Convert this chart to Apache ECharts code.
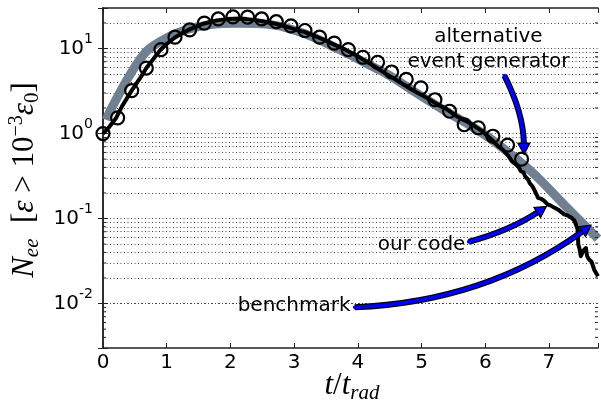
<!DOCTYPE html>
<html>
<head>
<meta charset="utf-8">
<script src="https://cdn.jsdelivr.net/npm/echarts@6/dist/echarts.min.js"></script>
<style>
  html, body { margin: 0; padding: 0; background: #fff; }
  #c { width: 601px; height: 407px; }
</style>
</head>
<body>
<div id="c"></div>
<script>
// Axis ranges: time in units of t_rad, counts on a log scale
const tMin = 0, tMax = 7.77;
const nMin = 0.003, nMax = 30;
const xTickStep = 1;

// benchmark curve
const benchT = [0.05, 0.11, 0.32, 0.52, 0.71, 0.99, 1.3, 1.67, 2.1, 2.66, 3.18, 3.7, 4.22, 4.5, 4.95, 5.37, 5.8, 6.15, 6.72, 7.24, 7.77];
const benchN = [1.45, 1.83, 3.6, 6.4, 9.7, 13.2, 16.6, 19.0, 19.8, 19.0, 14.8, 9.8, 6.2, 4.8, 2.9, 1.85, 1.2, 0.8, 0.36, 0.145, 0.058];

// our code
const codeT = [0.0, 0.1, 0.2, 0.3, 0.45, 0.6, 0.68, 0.8, 0.9, 1.0, 1.13, 1.25, 1.36, 1.5, 1.58, 1.7, 1.81, 1.95, 2.04, 2.15, 2.26, 2.4, 2.49, 2.6, 2.71, 2.85, 2.94, 3.05, 3.17, 3.3, 3.39, 3.5, 3.62, 3.75, 3.85, 4.0, 4.07, 4.2, 4.3, 4.45, 4.6, 4.75, 4.85, 5.0, 5.15, 5.3, 5.4, 5.55, 5.7, 5.85, 5.95, 6.05, 6.12, 6.2, 6.27, 6.36, 6.42, 6.47, 6.52, 6.56, 6.6, 6.63, 6.67, 6.7, 6.74, 6.78, 6.8, 6.83, 6.88, 6.93, 6.96, 6.98, 7.03, 7.08, 7.14, 7.19, 7.24, 7.3, 7.35, 7.4, 7.43, 7.45, 7.46, 7.48, 7.5, 7.54, 7.58, 7.6, 7.63, 7.67, 7.69, 7.71, 7.74, 7.77];
const codeN = [1.0, 1.2, 1.5, 2.1, 3.2, 4.7, 5.9, 7.7, 9.6, 11.3, 13.5, 15.3, 16.8, 18.6, 19.6, 20.8, 21.6, 22.2, 22.4, 22.5, 22.2, 21.6, 21.1, 20.3, 19.6, 18.3, 17.5, 16.5, 15.6, 14.3, 13.4, 12.4, 11.2, 10.2, 9.3, 8.1, 7.5, 6.6, 5.9, 5.0, 4.3, 3.65, 3.28, 2.85, 2.45, 2.1, 1.93, 1.6, 1.4, 1.2, 1.07, 0.92, 0.82, 0.71, 0.65, 0.55, 0.47, 0.44, 0.41, 0.36, 0.35, 0.31, 0.29, 0.26, 0.24, 0.21, 0.2, 0.175, 0.17, 0.16, 0.155, 0.147, 0.142, 0.135, 0.128, 0.12, 0.112, 0.108, 0.103, 0.095, 0.09, 0.075, 0.05, 0.044, 0.036, 0.042, 0.045, 0.036, 0.033, 0.031, 0.03, 0.025, 0.024, 0.021];

// alternative event generator
const altT = [0, 0.23, 0.45, 0.68, 0.91, 1.13, 1.36, 1.59, 1.81, 2.04, 2.27, 2.49, 2.72, 2.95, 3.17, 3.40, 3.63, 3.85, 4.08, 4.31, 4.53, 4.76, 4.99, 5.21, 5.44, 5.67, 5.89, 6.12, 6.35, 6.57];
const altN = [1.0, 1.53, 3.2, 5.9, 9.7, 13.6, 16.6, 19.9, 22.3, 23.6, 23.4, 22.3, 20.7, 18.5, 16.3, 13.6, 11.6, 9.7, 7.9, 6.9, 5.3, 4.35, 3.45, 2.5, 1.83, 1.27, 1.17, 0.93, 0.73, 0.50];

// annotation labels and arrows (anchors in data coordinates)
const labelAlt = ['alternative', 'event generator'];
const labelAltAt = [6.05, 9.8];
const labelCode = 'our code';
const labelCodeAt = [5.0, 0.0486];
const labelBench = 'benchmark';
const labelBenchAt = [3.0, 0.0095];
const arrowAlt = { from: [6.30, 4.8], to: [6.61, 0.57], rad: -0.115 };
const arrowCode = { from: [5.74, 0.0532], to: [6.96, 0.139], rad: 0.08 };
const arrowBench = { from: [3.95, 0.00905], to: [7.66, 0.0834], rad: 0.15 };

const zip = (a, b) => a.map((x, i) => [x, b[i]]);

// every 1..9 x 10^k inside the range, for the dotted grid and minor ticks
const gridVals = [];
for (let k = -3; k <= 1; k++) {
  for (let m = 1; m <= 9; m++) {
    const v = +(m * Math.pow(10, k)).toPrecision(6);
    if (v > nMin && v < nMax) gridVals.push(v);
  }
}
const isDecade = v => Math.abs(Math.log10(v) - Math.round(Math.log10(v))) < 1e-6;

const axisColor = '#222';
const tickFont = 'DejaVu Sans';

const chart = echarts.init(document.getElementById('c'), null, { renderer: 'canvas' });

const xCommon = {
  type: 'value', min: tMin, max: tMax, interval: xTickStep,
  axisLine: { show: true, onZero: false, lineStyle: { color: axisColor, width: 1.5 } },
  axisTick: { show: true, inside: true, length: 5, lineStyle: { color: axisColor, width: 1 } },
  splitLine: { show: false }
};
const yCommon = {
  type: 'log', logBase: 10, min: nMin, max: nMax,
  axisLine: { show: true, lineStyle: { color: axisColor, width: 1.5 } },
  axisTick: { show: true, inside: true, length: 5, lineStyle: { color: axisColor, width: 1 } },
  splitLine: { show: false }
};

chart.setOption({
  animation: false,
  backgroundColor: '#fff',
  grid: { left: 103, right: 1, top: 8, bottom: 59 },
  xAxis: [
    Object.assign({}, xCommon, {
      position: 'bottom',
      axisLabel: {
        fontFamily: tickFont, fontSize: 20, color: '#000', margin: 5,
        formatter: v => (Math.abs(v - Math.round(v)) < 1e-9 ? String(Math.round(v)) : '')
      }
    }),
    Object.assign({}, xCommon, { position: 'top', axisLabel: { show: false } })
  ],
  yAxis: [
    Object.assign({}, yCommon, {
      position: 'left',
      axisLabel: {
        margin: 10, color: '#000',
        formatter: v => isDecade(v) ? '{b|10}{s|' + Math.round(Math.log10(v)) + '}' : '',
        rich: {
          b: { fontFamily: tickFont, fontSize: 20, lineHeight: 32, color: '#000' },
          s: { fontFamily: tickFont, fontSize: 14, lineHeight: 14, verticalAlign: 'top', color: '#000' }
        }
      }
    }),
    Object.assign({}, yCommon, { position: 'right', axisLabel: { show: false } })
  ],
  series: [
    {
      name: 'grid', type: 'line', data: [], z: 0, silent: true,
      markLine: {
        silent: true, symbol: ['none', 'none'], z: 0,
        label: { show: false },
        lineStyle: { color: '#444', width: 1, type: [1, 2.5] },
        emphasis: { disabled: true },
        data: gridVals.map(v => ({ yAxis: v }))
      }
    },
    {
      name: 'benchmark', type: 'line', data: zip(benchT, benchN),
      smooth: 0.35, showSymbol: false, symbol: 'none', z: 2,
      lineStyle: { color: '#708090', width: 9, cap: 'butt' }
    },
    {
      name: 'our code', type: 'line', data: zip(codeT, codeN),
      smooth: false, showSymbol: false, symbol: 'none', z: 3,
      lineStyle: { color: '#000', width: 4, join: 'round' }
    },
    {
      name: 'alternative event generator', type: 'scatter', data: zip(altT, altN),
      symbol: 'circle', symbolSize: 13, z: 4,
      itemStyle: { color: 'rgba(0,0,0,0)', borderColor: '#000', borderWidth: 2.2, opacity: 1 }
    }
  ]
});

// decorations placed through the grid's coordinate conversion
const px = p => chart.convertToPixel({ gridIndex: 0 }, p);
const graphics = [];

// minor ticks on left and right spines
gridVals.filter(v => !isDecade(v)).forEach(v => {
  const L = px([tMin, v]), R = px([tMax, v]);
  graphics.push({ type: 'line', z: 50, silent: true, shape: { x1: L[0], y1: L[1], x2: L[0] + 3, y2: L[1] }, style: { stroke: axisColor, lineWidth: 1 } });
  graphics.push({ type: 'line', z: 50, silent: true, shape: { x1: R[0] - 3, y1: R[1], x2: R[0], y2: R[1] }, style: { stroke: axisColor, lineWidth: 1 } });
});

function addArrow(a) {
  const S = px(a.from), E = px(a.to);
  const dx = E[0] - S[0], dy = E[1] - S[1];
  const cp = [(S[0] + E[0]) / 2 - a.rad * dy, (S[1] + E[1]) / 2 + a.rad * dx];
  let ux = E[0] - cp[0], uy = E[1] - cp[1];
  const ul = Math.hypot(ux, uy); ux /= ul; uy /= ul;
  const headLen = 11, headHalf = 6;
  const B = [E[0] - ux * headLen, E[1] - uy * headLen];
  const shape = { x1: S[0], y1: S[1], x2: B[0], y2: B[1], cpx1: cp[0], cpy1: cp[1] };
  graphics.push({ type: 'bezierCurve', z: 60, silent: true, shape, style: { stroke: '#000', lineWidth: 6, fill: null, lineCap: 'butt' } });
  graphics.push({ type: 'bezierCurve', z: 61, silent: true, shape, style: { stroke: '#0000ff', lineWidth: 3.6, fill: null, lineCap: 'round' } });
  const nx = -uy, ny = ux;
  graphics.push({
    type: 'polygon', z: 62, silent: true,
    shape: { points: [E, [B[0] + nx * headHalf, B[1] + ny * headHalf], [B[0] - nx * headHalf, B[1] - ny * headHalf]] },
    style: { fill: '#0000ff', stroke: '#000', lineWidth: 1.2, lineJoin: 'miter' }
  });
}
[arrowAlt, arrowCode, arrowBench].forEach(addArrow);

function addLabel(text, at, lineHeight) {
  const p = px(at);
  graphics.push({
    type: 'text', z: 55, silent: true, x: p[0], y: p[1],
    style: {
      text, fill: '#000', font: '20px "DejaVu Sans"', fontFamily: 'DejaVu Sans', fontSize: 20,
      align: 'center', verticalAlign: 'middle', textAlign: 'center', textVerticalAlign: 'middle',
      lineHeight: lineHeight || 24
    }
  });
}
addLabel(labelAlt.join('\n'), labelAltAt, 25);
addLabel(labelCode, labelCodeAt);
addLabel(labelBench, labelBenchAt);

// axis titles
const mathRich = {
  it: { fontFamily: 'Liberation Serif', fontStyle: 'italic', fontSize: 31, lineHeight: 36, color: '#000' },
  rm: { fontFamily: 'Liberation Serif', fontSize: 31, lineHeight: 36, color: '#000' },
  sb: { fontFamily: 'Liberation Serif', fontStyle: 'italic', fontSize: 21, lineHeight: 21, verticalAlign: 'bottom', color: '#000' },
  sbr: { fontFamily: 'Liberation Serif', fontSize: 21, lineHeight: 21, verticalAlign: 'bottom', color: '#000' },
  sp: { fontFamily: 'Liberation Serif', fontSize: 20, lineHeight: 20, verticalAlign: 'top', color: '#000' }
};
graphics.push({
  type: 'text', z: 55, silent: true, x: 352, y: 386,
  style: {
    text: '{it|t}{rm|/}{it|t}{sb|rad}', rich: mathRich,
    align: 'center', verticalAlign: 'middle', textAlign: 'center', textVerticalAlign: 'middle'
  }
});
graphics.push({
  type: 'text', z: 55, silent: true, x: 25, y: 180, rotation: Math.PI / 2,
  style: {
    text: '{it|N}{sb|ee}{rm|  [}{it|ε}{rm| > 10}{sp|−3}{it|ε}{sbr|0}{rm|]}', rich: mathRich,
    align: 'center', verticalAlign: 'middle', textAlign: 'center', textVerticalAlign: 'middle'
  }
});

chart.setOption({ graphic: { elements: graphics } });
</script>
</body>
</html>
